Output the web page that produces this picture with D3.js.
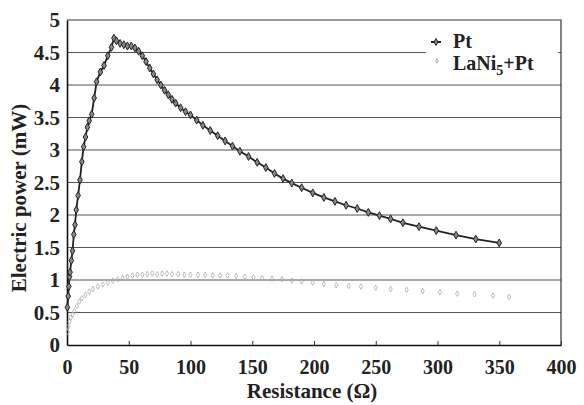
<!DOCTYPE html>
<html>
<head>
<meta charset="utf-8">
<script src="https://cdn.jsdelivr.net/npm/d3@7"></script>
<style>
  body { margin: 0; background: #fff; }
</style>
</head>
<body>
<div id="container"></div>
<script>
// Pt electrode: resistance (ohm) and power (mW)
const ptR = [0.3, 1, 1.5, 2, 2.5, 3.5, 4.5, 5.5, 6.5, 7.5, 9, 10.5, 12, 13.5, 15, 16.5, 18, 20, 22, 24, 27, 30, 33, 36, 38,
  40, 43, 46, 49, 52, 55, 58, 61, 64, 67, 70, 73, 76, 79, 82, 85, 88, 92, 96, 100, 105, 110, 116, 122, 128, 134, 140,
  147, 154, 161, 168, 175, 182, 190, 199, 208, 217, 226, 235, 244, 253, 262, 272, 285, 299, 315, 331, 350];
const ptP = [0.58, 0.75, 0.9, 1.05, 1.12, 1.3, 1.45, 1.7, 1.85, 2.08, 2.3, 2.54, 2.82, 3.05, 3.2, 3.35, 3.45, 3.55, 3.8, 4.05, 4.2, 4.3, 4.45, 4.58, 4.72,
  4.68, 4.64, 4.62, 4.6, 4.6, 4.57, 4.52, 4.45, 4.36, 4.26, 4.17, 4.08, 4.0, 3.92, 3.85, 3.78, 3.72, 3.65, 3.59, 3.54, 3.46, 3.38, 3.3, 3.22, 3.14, 3.06, 2.98,
  2.9, 2.81, 2.73, 2.64, 2.56, 2.49, 2.42, 2.34, 2.27, 2.21, 2.15, 2.1, 2.04, 1.99, 1.94, 1.88, 1.82, 1.76, 1.69, 1.63, 1.57];

// LaNi5+Pt electrode
const laR = [0.5, 1, 2, 3, 4.5, 6, 8, 10, 12, 15, 18, 21, 25, 29, 33, 37, 41, 45, 49, 53, 57, 61, 65, 69, 73, 77, 81, 85, 90, 95,
  100, 106, 112, 118, 124, 130, 137, 144, 151, 158, 166, 174, 182, 190, 199, 208, 218, 228, 238, 250, 262, 275, 288, 302, 316, 330, 345, 358];
const laP = [0.2, 0.28, 0.36, 0.42, 0.47, 0.52, 0.6, 0.67, 0.72, 0.77, 0.82, 0.86, 0.9, 0.93, 0.96, 0.99, 1.01, 1.03, 1.05, 1.07, 1.08, 1.08, 1.09, 1.1, 1.09, 1.1, 1.1, 1.09, 1.09, 1.08,
  1.08, 1.08, 1.08, 1.07, 1.07, 1.07, 1.06, 1.05, 1.04, 1.03, 1.02, 1.01, 0.99, 0.98, 0.96, 0.94, 0.92, 0.91, 0.9, 0.88, 0.86, 0.85, 0.83, 0.81, 0.79, 0.78, 0.76, 0.74];

const xTicks = [0, 50, 100, 150, 200, 250, 300, 350, 400];
const yTicks = [0, 0.5, 1, 1.5, 2, 2.5, 3, 3.5, 4, 4.5, 5];
const seriesNames = ["Pt", "LaNi5+Pt"];

const serif = "'Times New Roman', 'Liberation Serif', Times, serif";

const margin = { top: 20, right: 23, bottom: 60, left: 67 };
const width = 584 - margin.left - margin.right;
const height = 405 - margin.top - margin.bottom;

const svg = d3.select("#container")
  .append("svg")
  .attr("width", 584)
  .attr("height", 405);

const g = svg.append("g")
  .attr("transform", `translate(${margin.left},${margin.top})`);

const x = d3.scaleLinear().domain([0, 400]).range([0, width]);
const y = d3.scaleLinear().domain([0, 5]).range([height, 0]);

// gridlines
g.append("g")
  .selectAll("line")
  .data(yTicks.filter(d => d > 0 && d < 5))
  .join("line")
  .attr("x1", 0)
  .attr("x2", width)
  .attr("y1", d => y(d))
  .attr("y2", d => y(d))
  .attr("stroke", "#555")
  .attr("stroke-width", 1);

// frame top + right
g.append("path")
  .attr("d", `M0,0H${width}V${height}`)
  .attr("fill", "none")
  .attr("stroke", "#333")
  .attr("stroke-width", 1.2);

// axes
const xAxis = g.append("g")
  .attr("transform", `translate(0,${height})`)
  .call(d3.axisBottom(x).tickValues(xTicks).tickSizeInner(-4).tickSizeOuter(0).tickPadding(15));
xAxis.attr("font-family", serif).attr("font-weight", "bold").attr("font-size", 20);
xAxis.select(".domain").attr("stroke", "#111").attr("stroke-width", 1.6);
xAxis.selectAll(".tick line").attr("stroke", "#333");
xAxis.selectAll("text").attr("fill", "#222");

const yAxis = g.append("g")
  .call(d3.axisLeft(y).tickValues(yTicks).tickSize(0).tickPadding(7).tickFormat(d3.format("")));
yAxis.attr("font-family", serif).attr("font-weight", "bold").attr("font-size", 21);
yAxis.select(".domain").attr("stroke", "#111").attr("stroke-width", 1.6);
yAxis.selectAll("text").attr("fill", "#222");

// titles
svg.append("text")
  .attr("x", 312)
  .attr("y", 398)
  .attr("text-anchor", "middle")
  .attr("font-family", serif)
  .attr("font-weight", "bold")
  .attr("font-size", 21)
  .attr("fill", "#222")
  .text("Resistance (Ω)");

svg.append("text")
  .attr("transform", "translate(26,198) rotate(-90)")
  .attr("text-anchor", "middle")
  .attr("font-family", serif)
  .attr("font-weight", "bold")
  .attr("font-size", 21)
  .attr("fill", "#222")
  .text("Electric power (mW)");

// LaNi5+Pt series: faint scattered marks
g.append("g")
  .selectAll("path")
  .data(laR.map((r, i) => [r, laP[i]]))
  .join("path")
  .attr("d", d3.symbol(d3.symbolDiamond, 9))
  .attr("transform", d => `translate(${x(d[0])},${y(d[1])})`)
  .attr("fill", "none")
  .attr("stroke", "#aaa")
  .attr("stroke-width", 0.8);

// Pt series
const ptData = ptR.map((r, i) => [r, ptP[i]]);
g.append("path")
  .datum(ptData)
  .attr("d", d3.line().x(d => x(d[0])).y(d => y(d[1])))
  .attr("fill", "none")
  .attr("stroke", "#222")
  .attr("stroke-width", 1.8);

g.append("g")
  .selectAll("path")
  .data(ptData)
  .join("path")
  .attr("d", d3.symbol(d3.symbolDiamond, 18))
  .attr("transform", d => `translate(${x(d[0])},${y(d[1])})`)
  .attr("fill", "#888")
  .attr("stroke", "#222")
  .attr("stroke-width", 1);

// legend
const legend = svg.append("g")
  .attr("transform", "translate(426,26)")
  .attr("font-family", serif)
  .attr("font-weight", "bold")
  .attr("font-size", 20)
  .attr("fill", "#222");
legend.append("rect")
  .attr("width", 132)
  .attr("height", 52)
  .attr("fill", "#fff");

legend.append("line")
  .attr("x1", 5).attr("x2", 15).attr("y1", 16).attr("y2", 16)
  .attr("stroke", "#222").attr("stroke-width", 2);
legend.append("path")
  .attr("d", d3.symbol(d3.symbolDiamond, 14))
  .attr("transform", "translate(10,16)")
  .attr("fill", "#888").attr("stroke", "#222");
legend.append("path")
  .attr("d", d3.symbol(d3.symbolDiamond, 6))
  .attr("transform", "translate(11,35)")
  .attr("fill", "none").attr("stroke", "#aaa");

legend.append("text")
  .attr("x", 27).attr("y", 22)
  .text(seriesNames[0]);

const lt = legend.append("text")
  .attr("x", 27).attr("y", 44);
lt.append("tspan").text("LaNi");
lt.append("tspan").attr("dy", 5).attr("font-size", 14).text("5");
lt.append("tspan").attr("dy", -5).text("+Pt");
</script>
</body>
</html>
